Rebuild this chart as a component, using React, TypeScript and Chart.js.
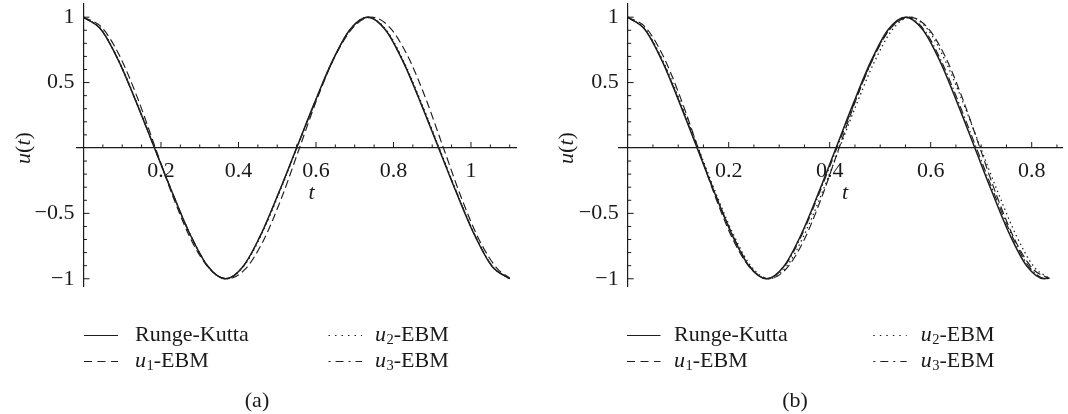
import React, { useEffect, useRef } from 'react';
import { Chart, registerables } from 'chart.js';

Chart.register(...registerables);

// ---------------- data ----------------
const SERIES_LABELS = ['Runge-Kutta', 'u₁-EBM', 'u₂-EBM', 'u₃-EBM'];

// Panel (a)
const A_RK_T = [0, 0.0458, 0.0917, 0.1375, 0.1833, 0.2291, 0.275, 0.3208, 0.3666, 0.4124, 0.4583, 0.5041, 0.5499, 0.5957, 0.6416, 0.6874, 0.7332, 0.779, 0.8249, 0.8707, 0.9165, 0.9623, 1.0082, 1.054, 1.0998];
const A_RK_U = [1, 0.904, 0.66, 0.341, 0, -0.341, -0.66, -0.904, -1, -0.904, -0.66, -0.341, 0, 0.341, 0.66, 0.904, 1, 0.904, 0.66, 0.341, 0, -0.341, -0.66, -0.904, -1];
const A_U1_T = [0, 0.0465, 0.0929, 0.1394, 0.1858, 0.2323, 0.2787, 0.3252, 0.3716, 0.4181, 0.4645, 0.511, 0.5574, 0.6039, 0.6503, 0.6968, 0.7432, 0.7897, 0.8361, 0.8826, 0.929, 0.9755, 1.0219, 1.0684, 1.0998];
const A_U1_U = [1, 0.924, 0.707, 0.383, 0, -0.383, -0.707, -0.924, -1, -0.924, -0.707, -0.383, 0, 0.383, 0.707, 0.924, 1, 0.924, 0.707, 0.383, 0, -0.383, -0.707, -0.924, -0.992];
const A_U2_T = [0, 0.0459, 0.0918, 0.1377, 0.1836, 0.2295, 0.2754, 0.3213, 0.3672, 0.4131, 0.459, 0.5049, 0.5508, 0.5967, 0.6426, 0.6885, 0.7344, 0.7803, 0.8262, 0.8721, 0.918, 0.9639, 1.0098, 1.0557, 1.0998];
const A_U2_U = [1, 0.906, 0.664, 0.345, 0, -0.345, -0.664, -0.906, -1, -0.906, -0.664, -0.345, 0, 0.345, 0.664, 0.906, 1, 0.906, 0.664, 0.345, 0, -0.345, -0.664, -0.906, -1];
const A_U3_T = [0, 0.0459, 0.0917, 0.1376, 0.1834, 0.2293, 0.2751, 0.321, 0.3668, 0.4127, 0.4585, 0.5044, 0.5502, 0.5961, 0.6419, 0.6878, 0.7336, 0.7795, 0.8253, 0.8712, 0.917, 0.9629, 1.0087, 1.0546, 1.0998];
const A_U3_U = [1, 0.903, 0.658, 0.34, 0, -0.34, -0.658, -0.903, -1, -0.903, -0.658, -0.34, 0, 0.34, 0.658, 0.903, 1, 0.903, 0.658, 0.34, 0, -0.34, -0.658, -0.903, -1];

// Panel (b)
const B_RK_T = [0, 0.0344, 0.0688, 0.1031, 0.1375, 0.1719, 0.2063, 0.2406, 0.275, 0.3094, 0.3438, 0.3781, 0.4125, 0.4469, 0.4813, 0.5156, 0.55, 0.5844, 0.6188, 0.6531, 0.6875, 0.7219, 0.7563, 0.7906, 0.825, 0.835];
const B_RK_U = [1, 0.904, 0.66, 0.341, 0, -0.341, -0.66, -0.904, -1, -0.904, -0.66, -0.341, 0, 0.341, 0.66, 0.904, 1, 0.904, 0.66, 0.341, 0, -0.341, -0.66, -0.904, -1, -0.992];
const B_U1_T = [0, 0.0349, 0.0698, 0.1046, 0.1395, 0.1744, 0.2093, 0.2441, 0.279, 0.3139, 0.3488, 0.3836, 0.4185, 0.4534, 0.4883, 0.5231, 0.558, 0.5929, 0.6278, 0.6626, 0.6975, 0.7324, 0.7673, 0.8021, 0.835];
const B_U1_U = [1, 0.924, 0.707, 0.383, 0, -0.383, -0.707, -0.924, -1, -0.924, -0.707, -0.383, 0, 0.383, 0.707, 0.924, 1, 0.924, 0.707, 0.383, 0, -0.383, -0.707, -0.924, -1];
const B_U2_T = [0, 0.035, 0.0699, 0.1049, 0.1398, 0.1748, 0.2097, 0.2447, 0.2796, 0.3146, 0.3495, 0.3845, 0.4194, 0.4544, 0.4893, 0.5243, 0.5592, 0.5942, 0.6291, 0.6641, 0.699, 0.734, 0.7689, 0.8039, 0.835];
const B_U2_U = [1, 0.906, 0.665, 0.347, 0, -0.347, -0.665, -0.906, -1, -0.906, -0.665, -0.347, 0, 0.347, 0.665, 0.906, 1, 0.906, 0.665, 0.347, 0, -0.347, -0.665, -0.906, -0.998];
const B_U3_T = [0, 0.0345, 0.0691, 0.1036, 0.1381, 0.1726, 0.2072, 0.2417, 0.2762, 0.3107, 0.3453, 0.3798, 0.4143, 0.4488, 0.4834, 0.5179, 0.5524, 0.5869, 0.6215, 0.656, 0.6905, 0.725, 0.7596, 0.7941, 0.8286, 0.835];
const B_U3_U = [1, 0.904, 0.661, 0.342, 0, -0.342, -0.661, -0.904, -1, -0.904, -0.661, -0.342, 0, 0.342, 0.661, 0.904, 1, 0.904, 0.661, 0.342, 0, -0.342, -0.661, -0.904, -1, -0.997];

// Tick values and labels
const A_X_TICKS = [0.2, 0.4, 0.6, 0.8, 1];
const A_X_TICK_LABELS = ['0.2', '0.4', '0.6', '0.8', '1'];
const B_X_TICKS = [0.2, 0.4, 0.6, 0.8];
const B_X_TICK_LABELS = ['0.2', '0.4', '0.6', '0.8'];
const Y_TICKS = [-1, -0.5, 0.5, 1];
const Y_TICK_LABELS = ['−1', '−0.5', '0.5', '1'];
const X_MINOR_STEP = 0.05;
const Y_MINOR_STEP = 0.1;

// ---------------- styles ----------------
const FONT = "'Liberation Serif', 'Times New Roman', serif";
const INK = '#1a1a1a';
const LINE = '#1e1e1e';
const FS = 22;
const SUB_FS = 14.5;
const MAJOR_LEN = 6;
const MINOR_LEN = 3.5;

const PLOT_STYLES = [
  { dash: [] as number[], width: 1.5 },
  { dash: [8, 4], width: 1.15 },
  { dash: [1.4, 3.4], width: 1.3 },
  { dash: [8, 3, 1.5, 3], width: 1.15 },
];
const LEGEND_DASH = [[], [8, 5.5], [1.5, 5], [2, 5, 8, 5]];

type Panel = {
  series: { t: number[]; u: number[] }[];
  xMin: number; xMax: number; yMin: number; yMax: number;
  padding: { left: number; right: number; top: number; bottom: number };
  xTicks: number[]; xTickLabels: string[];
  uLabel: [number, number]; tLabel: [number, number];
  legendCols: [number, number, number][]; legendRows: number[];
  caption: string; captionPos: [number, number];
};

const PANELS: Panel[] = [
  {
    series: [
      { t: A_RK_T, u: A_RK_U }, { t: A_U1_T, u: A_U1_U },
      { t: A_U2_T, u: A_U2_U }, { t: A_U3_T, u: A_U3_U },
    ],
    xMin: -0.018, xMax: 1.118, yMin: -1.06, yMax: 1.1,
    padding: { left: 76.5, right: 17.3, top: 4.1, bottom: 127.4 },
    xTicks: A_X_TICKS, xTickLabels: A_X_TICK_LABELS,
    uLabel: [24, 148], tLabel: [311.5, 199],
    legendCols: [[84, 118, 135], [328.5, 362, 375]], legendRows: [335.5, 361],
    caption: '(a)', captionPos: [257, 401.7],
  },
  {
    series: [
      { t: B_RK_T, u: B_RK_U }, { t: B_U1_T, u: B_U1_U },
      { t: B_U2_T, u: B_U2_U }, { t: B_U3_T, u: B_U3_U },
    ],
    xMin: -0.0186, xMax: 0.86, yMin: -1.06, yMax: 1.1,
    padding: { left: 84.3, right: 6, top: 4.1, bottom: 127.4 },
    xTicks: B_X_TICKS, xTickLabels: B_X_TICK_LABELS,
    uLabel: [33.7, 148], tLabel: [311, 199],
    legendCols: [[93, 126.5, 140], [339.3, 372.7, 386.7]], legendRows: [335.5, 361],
    caption: '(b)', captionPos: [261, 401.7],
  },
];

const SUBS: Record<string, string> = { '₁': '1', '₂': '2', '₃': '3' };

function drawParts(ctx: CanvasRenderingContext2D, parts: [string, string][], x: number, y: number, align: 'left' | 'center') {
  // parts: [text, kind] kind: 'n' normal, 'i' italic, 's' subscript
  const fontFor = (k: string) => (k === 'i' ? `italic ${FS}px ${FONT}` : k === 's' ? `${SUB_FS}px ${FONT}` : `${FS}px ${FONT}`);
  let total = 0;
  for (const [s, k] of parts) { ctx.font = fontFor(k); total += ctx.measureText(s).width + (k === 's' ? 0.5 : 0); }
  let cx = align === 'center' ? x - total / 2 : x;
  ctx.textAlign = 'left';
  ctx.textBaseline = 'middle';
  for (const [s, k] of parts) {
    ctx.font = fontFor(k);
    if (k === 's') { ctx.fillText(s, cx + 0.5, y + 5); cx += ctx.measureText(s).width + 0.5; }
    else { ctx.fillText(s, cx, y); cx += ctx.measureText(s).width; }
  }
}

function labelParts(label: string): [string, string][] {
  const m = /^u([₁₂₃])(.*)$/.exec(label);
  if (!m) return [[label, 'n']];
  return [['u', 'i'], [SUBS[m[1]], 's'], [m[2], 'n']];
}

function makeDecor(p: Panel) {
  return {
    id: 'mathDecor',
    beforeDatasetsDraw(chart: any) {
      const ctx: CanvasRenderingContext2D = chart.ctx;
      const xs = chart.scales.x;
      const ys = chart.scales.y;
      const ox = xs.getPixelForValue(0);
      const oy = ys.getPixelForValue(0);
      ctx.save();
      ctx.strokeStyle = INK;
      ctx.lineWidth = 1;
      ctx.beginPath();
      const nx = Math.floor((p.xMax - 0.0001) / X_MINOR_STEP);
      for (let i = 1; i <= nx; i++) {
        const v = i * X_MINOR_STEP;
        const px = xs.getPixelForValue(v);
        const major = p.xTicks.some((t) => Math.abs(t - v) < 1e-6);
        ctx.moveTo(px, oy);
        ctx.lineTo(px, oy - (major ? MAJOR_LEN : MINOR_LEN));
      }
      for (let i = -10; i <= 10; i++) {
        if (i === 0) continue;
        const v = i * Y_MINOR_STEP;
        const py = ys.getPixelForValue(v);
        const major = Y_TICKS.some((t) => Math.abs(t - v) < 1e-6);
        ctx.moveTo(ox, py);
        ctx.lineTo(ox + (major ? MAJOR_LEN : MINOR_LEN), py);
      }
      ctx.stroke();

      ctx.fillStyle = INK;
      ctx.font = `${FS}px ${FONT}`;
      ctx.textAlign = 'center';
      ctx.textBaseline = 'middle';
      p.xTicks.forEach((v, i) => ctx.fillText(p.xTickLabels[i], xs.getPixelForValue(v), oy + 23));
      ctx.textAlign = 'right';
      Y_TICKS.forEach((v, i) => ctx.fillText(Y_TICK_LABELS[i], ox - 9, ys.getPixelForValue(v)));

      // axis titles
      ctx.save();
      ctx.translate(p.uLabel[0], p.uLabel[1]);
      ctx.rotate(-Math.PI / 2);
      drawParts(ctx, [['u', 'i'], ['(', 'n'], ['t', 'i'], [')', 'n']], 0, 0, 'center');
      ctx.restore();
      ctx.font = `italic ${FS}px ${FONT}`;
      ctx.textAlign = 'center';
      ctx.textBaseline = 'alphabetic';
      ctx.fillText('t', p.tLabel[0], p.tLabel[1]);
      ctx.restore();
    },
    afterDraw(chart: any) {
      const ctx: CanvasRenderingContext2D = chart.ctx;
      ctx.save();
      ctx.fillStyle = INK;
      ctx.strokeStyle = LINE;
      const slots = [[0, 0], [0, 1], [1, 0], [1, 1]];
      chart.data.datasets.forEach((ds: any, i: number) => {
        const [c, r] = slots[i];
        const [x1, x2, tx] = p.legendCols[c];
        const y = p.legendRows[r];
        const ly = Math.floor(y) + 0.5;
        ctx.beginPath();
        ctx.setLineDash(LEGEND_DASH[i]);
        ctx.lineWidth = 1;
        ctx.moveTo(x1, ly);
        ctx.lineTo(x2, ly);
        ctx.stroke();
        ctx.setLineDash([]);
        drawParts(ctx, labelParts(ds.label), tx, y, 'left');
      });
      ctx.font = `${FS}px ${FONT}`;
      ctx.textAlign = 'center';
      ctx.textBaseline = 'middle';
      ctx.fillText(p.caption, p.captionPos[0], p.captionPos[1]);
      ctx.restore();
    },
  };
}

function PanelChart({ p, left }: { p: Panel; left: number }) {
  const ref = useRef<HTMLCanvasElement | null>(null);
  useEffect(() => {
    if (!ref.current) return;
    const chart = new Chart(ref.current, {
      type: 'line',
      data: {
        datasets: p.series.map((s, i) => ({
          label: SERIES_LABELS[i],
          data: s.t.map((t, k) => ({ x: t, y: s.u[k] })),
          borderColor: LINE,
          borderWidth: PLOT_STYLES[i].width,
          borderDash: PLOT_STYLES[i].dash,
          pointRadius: 0,
          fill: false,
          cubicInterpolationMode: 'monotone' as const,
        })),
      },
      options: {
        animation: false,
        responsive: false,
        devicePixelRatio: 1,
        layout: { padding: p.padding },
        plugins: { legend: { display: false }, tooltip: { enabled: false }, title: { display: false } },
        scales: {
          x: {
            type: 'linear', min: p.xMin, max: p.xMax,
            position: { y: 0 } as any,
            grid: { display: false },
            border: { display: true, color: INK, width: 1.2 },
            ticks: { display: false },
          },
          y: {
            type: 'linear', min: p.yMin, max: p.yMax,
            position: { x: 0 } as any,
            grid: { display: false },
            border: { display: true, color: INK, width: 1.2 },
            ticks: { display: false },
          },
        },
      },
      plugins: [makeDecor(p)],
    } as any);
    return () => chart.destroy();
  }, [p]);
  return (
    <div style={{ position: 'absolute', left, top: 0, width: 534, height: 414 }}>
      <canvas ref={ref} width={534} height={414} style={{ width: 534, height: 414, display: 'block' }} />
    </div>
  );
}

export default function App() {
  return (
    <div style={{ position: 'absolute', left: 0, top: 0, width: 1068, height: 414, background: '#fff', overflow: 'hidden' }}>
      <PanelChart p={PANELS[0]} left={0} />
      <PanelChart p={PANELS[1]} left={534} />
    </div>
  );
}
